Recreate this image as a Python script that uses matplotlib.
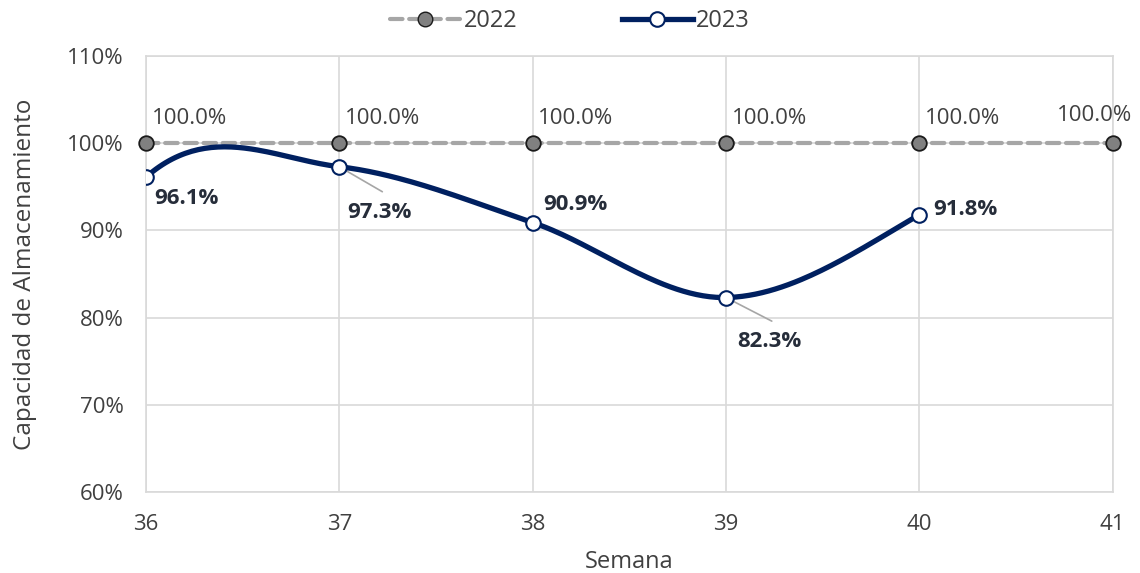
import numpy as np
import matplotlib
matplotlib.use("Agg")
import matplotlib.pyplot as plt
from matplotlib.lines import Line2D

weeks_2022 = [36, 37, 38, 39, 40, 41]
values_2022 = [100.0, 100.0, 100.0, 100.0, 100.0, 100.0]
weeks_2023 = [36, 37, 38, 39, 40]
values_2023 = [96.1, 97.3, 90.9, 82.3, 91.8]
series_names = ["2022", "2023"]
y_ticks = [60, 70, 80, 90, 100, 110]

NAVY = "#002060"
GRAY_LINE = "#a6a6a6"
TEXT = "#404040"
LABEL_DARK = "#262d3a"
FONT = ["Open Sans", "DejaVu Sans"]
plt.rcParams["font.family"] = FONT
FS = 16


def smooth_curve(x, y, m_start, m_end, n=60):
    """Hermite smoothing (chart-style) through the given points."""
    x = np.asarray(x, float)
    y = np.asarray(y, float)
    m = np.zeros_like(y)
    m[1:-1] = (y[2:] - y[:-2]) / (x[2:] - x[:-2])
    m[0] = m_start
    m[-1] = m_end
    xs, ys = [], []
    for i in range(len(x) - 1):
        h = x[i + 1] - x[i]
        t = np.linspace(0, 1, n)
        h00 = 2 * t**3 - 3 * t**2 + 1
        h10 = t**3 - 2 * t**2 + t
        h01 = -2 * t**3 + 3 * t**2
        h11 = t**3 - t**2
        xs.append(x[i] + t * h)
        ys.append(h00 * y[i] + h10 * h * m[i] + h01 * y[i + 1] + h11 * h * m[i + 1])
    return np.concatenate(xs), np.concatenate(ys)


fig = plt.figure(figsize=(11.4, 5.73), dpi=100)
ax = fig.add_axes([0.128, 0.1414, 0.848, 0.7609])

ax.set_xlim(36, 41)
ax.set_ylim(60, 110)
ax.set_xticks(weeks_2022)
ax.set_yticks(y_ticks)
ax.set_yticklabels([f"{v}%" for v in y_ticks])
ax.grid(True, color="#d9d9d9", linewidth=1.2)
ax.set_axisbelow(True)
for s in ax.spines.values():
    s.set_color("#d9d9d9")
    s.set_linewidth(1.2)
ax.tick_params(axis="both", length=0, labelsize=FS, labelcolor=TEXT)
ax.tick_params(axis="x", pad=16)
ax.tick_params(axis="y", pad=16)

# 2022 series
ax.plot(weeks_2022, values_2022, color=GRAY_LINE, linewidth=3, linestyle=(0, (3, 1.6)),
        dash_capstyle="round", zorder=3, clip_on=False)
ax.plot(weeks_2022, values_2022, linestyle="none", marker="o", markersize=10.5,
        markerfacecolor="#808080", markeredgecolor="#1a1a1a", markeredgewidth=1.3,
        zorder=4, clip_on=False)

# 2023 series
sx, sy = smooth_curve(weeks_2023, values_2023, m_start=19.5, m_end=13.0)
ax.plot(sx, sy, color=NAVY, linewidth=3.8, zorder=5, solid_capstyle="round")
ax.plot(weeks_2023, values_2023, linestyle="none", marker="o", markersize=10.5,
        markerfacecolor="white", markeredgecolor=NAVY, markeredgewidth=1.5, zorder=6)

# 2022 labels
for i, (w, v) in enumerate(zip(weeks_2022, values_2022)):
    if i == len(weeks_2022) - 1:
        ax.annotate(f"{v:.1f}%", (w, v), xytext=(-13, 20), textcoords="offset points",
                    ha="center", va="center", fontsize=FS, color=TEXT, annotation_clip=False)
    else:
        ax.annotate(f"{v:.1f}%", (w, v), xytext=(4, 17.5), textcoords="offset points",
                    ha="left", va="center", fontsize=FS, color=TEXT, annotation_clip=False)

# 2023 labels (offsets in points)
label_offsets = [(6, -15), (6, -33), (8, 13), (8, -32), (10, 4)]
leaders = [False, True, False, True, False]
for (w, v), off, lead in zip(zip(weeks_2023, values_2023), label_offsets, leaders):
    ax.annotate(f"{v:.1f}%", (w, v), xytext=off, textcoords="offset points",
                ha="left", va="center", fontsize=FS, fontweight="bold", color=LABEL_DARK,
                zorder=7)
    if lead:
        ax.annotate("", (w, v), xytext=(off[0] + 25, off[1] + 15), textcoords="offset points",
                    arrowprops=dict(arrowstyle="-", color="#a6a6a6", lw=1.2,
                                    shrinkA=0, shrinkB=0), zorder=4)

ax.set_xlabel("Semana", fontsize=17, color=TEXT, labelpad=11)
ax.set_ylabel("Capacidad de Almacenamiento", fontsize=17.5, color=TEXT, labelpad=22)

handles = [
    Line2D([0], [0], color=GRAY_LINE, linewidth=3, linestyle=(0, (3, 1.6)),
           marker="o", markersize=10.5, markerfacecolor="#808080", markeredgecolor="#1a1a1a",
           dash_capstyle="round"),
    Line2D([0], [0], color=NAVY, linewidth=3.8, marker="o", markersize=10.5,
           markerfacecolor="white", markeredgecolor=NAVY, markeredgewidth=1.5),
]
fig.legend(handles, series_names, loc="center", bbox_to_anchor=(0.5, 0.963), ncol=2,
           frameon=False, fontsize=17, handlelength=3.0, handletextpad=0.15,
           columnspacing=4.4, labelcolor=TEXT)

fig.savefig("out.png", dpi=100)
